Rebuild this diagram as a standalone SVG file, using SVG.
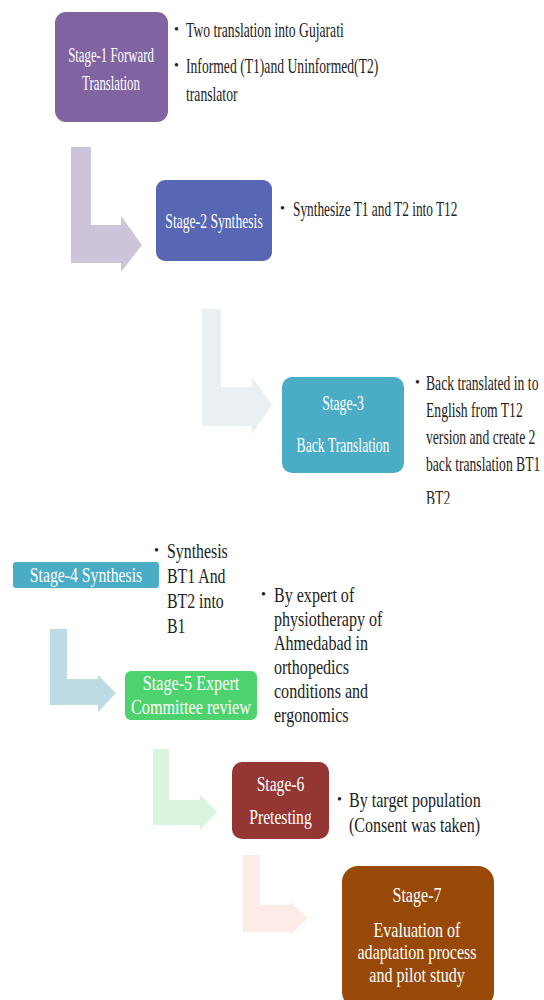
<svg xmlns="http://www.w3.org/2000/svg" width="544" height="1000" viewBox="0 0 544 1000">
<style>
.bt{font-family:"Liberation Serif",serif;font-size:22px;fill:#222}
.dot{font-family:"Liberation Serif",serif;font-size:14px;fill:#222}
.wt{font-family:"Liberation Serif",serif;font-size:21px;fill:#fff;text-anchor:middle}
.wl{font-size:22px}
</style>
<defs>
<clipPath id="clipBT2"><rect x="-100" y="470" width="400" height="34"/></clipPath>
</defs>
<rect width="544" height="1000" fill="#fff"/>
<g id="connectors">
<polygon fill="#CCC5DA" points="71,147 91,147 91,225 121,225 121,216 142,245 121,272 121,263 71,263"/>
<polygon fill="#E9EFF3" points="202,309 221,309 221,387 252,387 252,377 272,405 252,434 252,426 202,426"/>
<polygon fill="#BEDBE4" points="50,629 67,629 67,679 98,679 98,675 116,693 98,712 98,705 50,705"/>
<polygon fill="#DAF5DE" points="153,749 169,749 169,800 200,800 200,795 217,812 200,830 200,825 153,825"/>
<polygon fill="#FDEBE7" points="243,855 260,855 260,905 290,905 290,902 308,918 290,935 290,932 243,932"/>
</g>
<g id="stage1">
<rect x="55" y="12" width="113" height="110" rx="11" fill="#8064A2"/>
<g transform="translate(111,0) scale(0.61,1)">
<text class="wt" x="0" y="62">Stage-1 Forward</text>
<text class="wt" x="0" y="90">Translation</text>
</g>
<text class="dot" x="174" y="34">•</text>
<text class="dot" x="174" y="70">•</text>
<g transform="translate(186,0) scale(0.62,1)">
<text class="bt" x="0" y="37">Two translation into Gujarati</text>
<text class="bt" x="0" y="73">Informed (T1)and Uninformed(T2)</text>
<text class="bt" x="0" y="101">translator</text>
</g>
</g>
<g id="stage2">
<rect x="156" y="180" width="116" height="81" rx="9" fill="#5767B3"/>
<g transform="translate(214,0) scale(0.65,1)">
<text class="wt" x="0" y="228">Stage-2 Synthesis</text>
</g>
<text class="dot" x="280" y="213">•</text>
<g transform="translate(293,0) scale(0.605,1)">
<text class="bt" x="0" y="216">Synthesize T1 and T2 into T12</text>
</g>
</g>
<g id="stage3">
<rect x="282" y="377" width="122" height="96" rx="10" fill="#4BACC6"/>
<g transform="translate(343,0) scale(0.65,1)">
<text class="wt" x="0" y="410">Stage-3</text>
<text class="wt" x="0" y="452">Back Translation</text>
</g>
<text class="dot" x="415" y="387">•</text>
<g transform="translate(426,0) scale(0.62,1)">
<text class="bt" x="0" y="390">Back translated in to</text>
<text class="bt" x="0" y="417">English from T12</text>
<text class="bt" x="0" y="444">version and create 2</text>
<text class="bt" x="0" y="471">back translation BT1</text>
<g clip-path="url(#clipBT2)">
<text class="bt" x="0" y="505">BT2</text>
</g>
</g>
</g>
<g id="stage4">
<rect x="13" y="562" width="146" height="26" rx="3" fill="#4BACC6"/>
<g transform="translate(86,0) scale(0.75,1)">
<text class="wt" x="0" y="582">Stage-4 Synthesis</text>
</g>
<text class="dot" x="154" y="555">•</text>
<g transform="translate(167,0) scale(0.72,1)">
<text class="bt" x="0" y="558">Synthesis</text>
<text class="bt" x="0" y="583">BT1 And</text>
<text class="bt" x="0" y="608">BT2 into</text>
<text class="bt" x="0" y="633">B1</text>
</g>
</g>
<g id="stage5">
<rect x="125" y="671" width="132" height="49" rx="6" fill="#4DD36D"/>
<g transform="translate(191,0) scale(0.77,1)">
<text class="wt" x="0" y="690">Stage-5 Expert</text>
<text class="wt" x="0" y="714">Committee review</text>
</g>
<text class="dot" x="261" y="599">•</text>
<g transform="translate(274,0) scale(0.73,1)">
<text class="bt" x="0" y="602">By expert of</text>
<text class="bt" x="0" y="626">physiotherapy of</text>
<text class="bt" x="0" y="650">Ahmedabad in</text>
<text class="bt" x="0" y="674">orthopedics</text>
<text class="bt" x="0" y="698">conditions and</text>
<text class="bt" x="0" y="722">ergonomics</text>
</g>
</g>
<g id="stage6">
<rect x="232" y="762" width="97" height="77" rx="10" fill="#943634"/>
<g transform="translate(280.5,0) scale(0.71,1)">
<text class="wt wl" x="0" y="791">Stage-6</text>
<text class="wt wl" x="0" y="824">Pretesting</text>
</g>
<text class="dot" x="337" y="804">•</text>
<g transform="translate(349,0) scale(0.73,1)">
<text class="bt" x="0" y="807">By target population</text>
<text class="bt" x="0" y="832">(Consent was taken)</text>
</g>
</g>
<g id="stage7">
<rect x="342" y="866" width="152" height="142" rx="16" fill="#984807"/>
<g transform="translate(417,0) scale(0.73,1)">
<text class="wt wl" x="0" y="902">Stage-7</text>
<text class="wt wl" x="0" y="937">Evaluation of</text>
<text class="wt wl" x="0" y="959">adaptation process</text>
<text class="wt wl" x="0" y="982">and pilot study</text>
</g>
</g>
</svg>
